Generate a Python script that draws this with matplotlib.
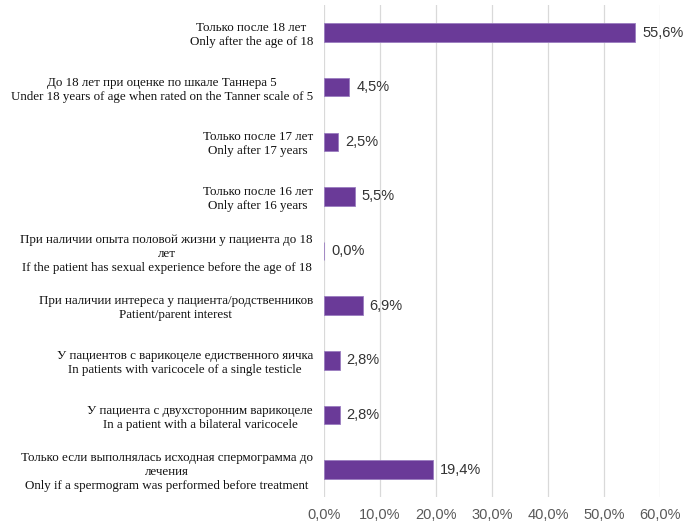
import matplotlib
matplotlib.use("Agg")
import matplotlib.pyplot as plt
from matplotlib.ticker import FuncFormatter

categories = [
    "Только после 18 лет\nOnly after the age of 18",
    "До 18 лет при оценке по шкале Таннера 5\nUnder 18 years of age when rated on the Tanner scale of 5",
    "Только после 17 лет\nOnly after 17 years",
    "Только после 16 лет\nOnly after 16 years",
    "При наличии опыта половой жизни у пациента до 18\nлет\nIf the patient has sexual experience before the age of 18",
    "При наличии интереса у пациента/родственников\nPatient/parent interest",
    "У пациентов с варикоцеле едиственного яичка\nIn patients with varicocele of a single testicle",
    "У пациента с двухсторонним варикоцеле\nIn a patient with a bilateral varicocele",
    "Только если выполнялась исходная спермограмма до\nлечения\nOnly if a spermogram was performed before treatment",
]
values = [55.6, 4.5, 2.5, 5.5, 0.0, 6.9, 2.8, 2.8, 19.4]
xticks = [0, 10, 20, 30, 40, 50, 60]

num_font = "Liberation Sans"

fig = plt.figure(figsize=(6.84, 5.24), dpi=100)
ax = fig.add_axes([0.4737, 0.0515, 0.4912, 0.9385])

ypos = list(range(len(categories)))
ax.barh(ypos, values, height=0.34, color="#6a3a98", edgecolor="#9a7cc0",
        linewidth=0.6, zorder=3)
ax.set_ylim(len(categories) - 0.5, -0.5)
ax.set_xlim(0, 60)
ax.set_xticks(xticks)
ax.xaxis.set_major_formatter(FuncFormatter(lambda v, p: f"{v:.1f}%".replace(".", ",")))
ax.grid(axis="x", color="#d9d9d9", linewidth=0.9, zorder=0)
for s in ax.spines.values():
    s.set_visible(False)
ax.tick_params(axis="both", length=0)
ax.tick_params(axis="x", pad=8, labelsize=10.5, labelcolor="#595959")
for lab in ax.get_xticklabels():
    lab.set_family(num_font)

ax.set_yticks(ypos)
ax.set_yticklabels(categories, fontsize=9.4, family="Liberation Serif",
                   color="#111111", multialignment="center", linespacing=1.22)
ax.tick_params(axis="y", pad=8)

for y, v in zip(ypos, values):
    ax.annotate(f"{v:.1f}%".replace(".", ","), xy=(v, y), xytext=(5, 0),
                textcoords="offset points", va="center", ha="left",
                fontsize=10.5, family=num_font, color="#333333")

fig.savefig("out.png", dpi=100)
